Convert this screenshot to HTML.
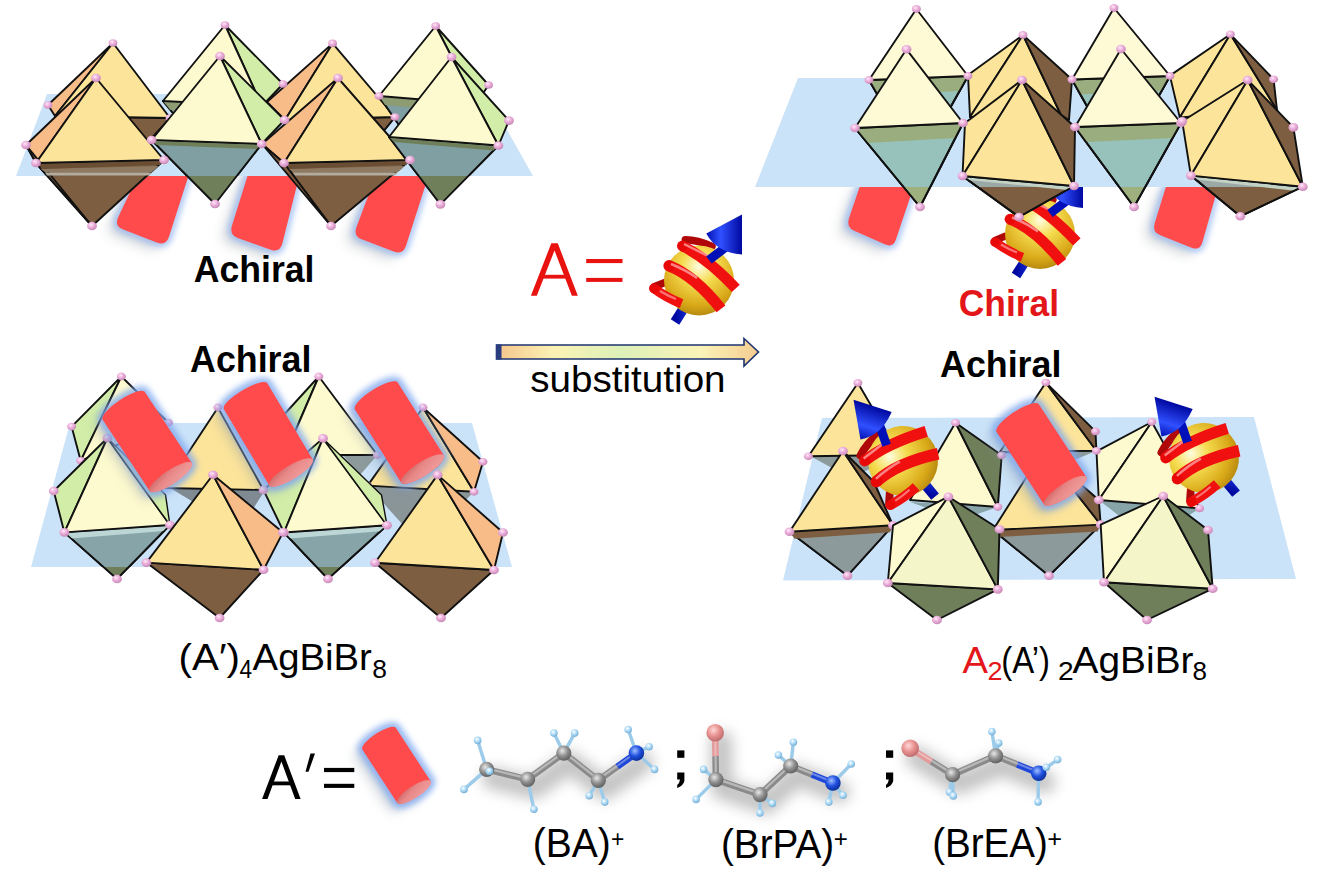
<!DOCTYPE html>
<html><head><meta charset="utf-8"><style>
html,body{margin:0;padding:0;background:#fff;}
svg{display:block;}
text{font-family:"Liberation Sans",sans-serif;}
</style></head><body>
<svg width="1323" height="891" viewBox="0 0 1323 891">
<defs>
<radialGradient id="pk" cx="0.4" cy="0.35" r="0.7"><stop offset="0" stop-color="#FFEAF8"/><stop offset="0.45" stop-color="#EBAEDB"/><stop offset="1" stop-color="#C285B2"/></radialGradient>
<linearGradient id="cap" x1="0" y1="0" x2="1" y2="1"><stop offset="0" stop-color="#F2A0A0"/><stop offset="0.6" stop-color="#E88888"/><stop offset="1" stop-color="#C86060"/></linearGradient>
<radialGradient id="gold" cx="0.5" cy="0.3" r="0.7"><stop offset="0" stop-color="#FFFDE0"/><stop offset="0.35" stop-color="#F5DC50"/><stop offset="0.8" stop-color="#D8A818"/><stop offset="1" stop-color="#B88A10"/></radialGradient>
<linearGradient id="rib" x1="0" y1="0" x2="1" y2="0"><stop offset="0" stop-color="#E00000"/><stop offset="0.35" stop-color="#FF6060"/><stop offset="0.6" stop-color="#FF1010"/><stop offset="1" stop-color="#C00000"/></linearGradient>
<linearGradient id="cone" x1="0" y1="0" x2="1" y2="0"><stop offset="0" stop-color="#0010B0"/><stop offset="0.4" stop-color="#3050FF"/><stop offset="1" stop-color="#0008A0"/></linearGradient>
<linearGradient id="rod" x1="0" y1="0" x2="1" y2="0"><stop offset="0" stop-color="#0008A0"/><stop offset="0.5" stop-color="#2040F0"/><stop offset="1" stop-color="#000890"/></linearGradient>
<linearGradient id="arr" x1="0" y1="0" x2="1" y2="0"><stop offset="0" stop-color="#F5C48C"/><stop offset="0.22" stop-color="#FBF2B4"/><stop offset="0.48" stop-color="#DCF0B8"/><stop offset="0.78" stop-color="#FBF3B8"/><stop offset="1" stop-color="#F5CC90"/></linearGradient>
<radialGradient id="gC" cx="0.4" cy="0.35" r="0.7"><stop offset="0" stop-color="#E8E8E8"/><stop offset="0.5" stop-color="#909090"/><stop offset="1" stop-color="#5A5A5A"/></radialGradient>
<radialGradient id="gN" cx="0.4" cy="0.35" r="0.7"><stop offset="0" stop-color="#9FC0FF"/><stop offset="0.5" stop-color="#2050E0"/><stop offset="1" stop-color="#0A2A90"/></radialGradient>
<radialGradient id="gBr" cx="0.4" cy="0.35" r="0.7"><stop offset="0" stop-color="#FFD8D8"/><stop offset="0.5" stop-color="#E89090"/><stop offset="1" stop-color="#B86868"/></radialGradient>
<radialGradient id="gH" cx="0.4" cy="0.35" r="0.7"><stop offset="0" stop-color="#FFFFFF"/><stop offset="0.5" stop-color="#A8D8F5"/><stop offset="1" stop-color="#70A8D0"/></radialGradient>
<filter id="blur3" x="-30%" y="-30%" width="160%" height="160%"><feGaussianBlur stdDeviation="3"/></filter>
<filter id="blur6" x="-40%" y="-40%" width="180%" height="180%"><feGaussianBlur stdDeviation="6"/></filter>
<filter id="blurM" filterUnits="userSpaceOnUse" x="400" y="680" width="720" height="160"><feGaussianBlur stdDeviation="7"/></filter>
<clipPath id="cTL"><rect x="0" y="0" width="1323" height="176"/></clipPath><clipPath id="cTR"><rect x="0" y="0" width="1323" height="187"/></clipPath><clipPath id="cBL"><rect x="0" y="0" width="1323" height="567"/></clipPath><clipPath id="cBR"><rect x="0" y="0" width="1323" height="580"/></clipPath>
</defs>
<path d="M138.7,174.0 Q143.0,165.0 153.0,165.0 L182.0,165.0 Q192.0,165.0 188.9,174.5 L169.1,236.5 Q166.0,246.0 156.7,242.4 L123.3,229.6 Q114.0,226.0 118.3,217.0 Z" fill="#808890" opacity="0.30" transform="translate(-9,7)" filter="url(#blur6)"/>
<path d="M138.7,174.0 Q143.0,165.0 153.0,165.0 L182.0,165.0 Q192.0,165.0 188.9,174.5 L169.1,236.5 Q166.0,246.0 156.7,242.4 L123.3,229.6 Q114.0,226.0 118.3,217.0 Z" fill="none" stroke="#86AEF2" stroke-width="6" opacity="0.8" filter="url(#blur3)"/>
<path d="M138.7,174.0 Q143.0,165.0 153.0,165.0 L182.0,165.0 Q192.0,165.0 188.9,174.5 L169.1,236.5 Q166.0,246.0 156.7,242.4 L123.3,229.6 Q114.0,226.0 118.3,217.0 Z" fill="#FF4B4B"/>
<path d="M248.0,174.5 Q251.0,165.0 261.0,165.0 L292.0,165.0 Q302.0,165.0 299.6,174.7 L282.4,243.3 Q280.0,253.0 270.6,249.7 L238.4,238.3 Q229.0,235.0 232.0,225.5 Z" fill="#808890" opacity="0.30" transform="translate(-9,7)" filter="url(#blur6)"/>
<path d="M248.0,174.5 Q251.0,165.0 261.0,165.0 L292.0,165.0 Q302.0,165.0 299.6,174.7 L282.4,243.3 Q280.0,253.0 270.6,249.7 L238.4,238.3 Q229.0,235.0 232.0,225.5 Z" fill="none" stroke="#86AEF2" stroke-width="6" opacity="0.8" filter="url(#blur3)"/>
<path d="M248.0,174.5 Q251.0,165.0 261.0,165.0 L292.0,165.0 Q302.0,165.0 299.6,174.7 L282.4,243.3 Q280.0,253.0 270.6,249.7 L238.4,238.3 Q229.0,235.0 232.0,225.5 Z" fill="#FF4B4B"/>
<path d="M376.4,174.3 Q380.0,165.0 390.0,165.0 L422.0,165.0 Q432.0,165.0 428.9,174.5 L406.1,245.5 Q403.0,255.0 393.7,251.4 L362.3,239.6 Q353.0,236.0 356.6,226.7 Z" fill="#808890" opacity="0.30" transform="translate(-9,7)" filter="url(#blur6)"/>
<path d="M376.4,174.3 Q380.0,165.0 390.0,165.0 L422.0,165.0 Q432.0,165.0 428.9,174.5 L406.1,245.5 Q403.0,255.0 393.7,251.4 L362.3,239.6 Q353.0,236.0 356.6,226.7 Z" fill="none" stroke="#86AEF2" stroke-width="6" opacity="0.8" filter="url(#blur3)"/>
<path d="M376.4,174.3 Q380.0,165.0 390.0,165.0 L422.0,165.0 Q432.0,165.0 428.9,174.5 L406.1,245.5 Q403.0,255.0 393.7,251.4 L362.3,239.6 Q353.0,236.0 356.6,226.7 Z" fill="#FF4B4B"/>
<polygon points="47.0,94.0 487.0,94.0 533.0,176.0 16.0,176.0" fill="#CBE3F8" />
<polygon points="55.0,116.0 170.0,118.0 109.0,185.0" fill="#7E5E40" stroke="#111" stroke-width="1.9" stroke-linejoin="round" />
<g clip-path="url(#cTL)">
<polygon points="55.0,116.0 170.0,118.0 109.0,185.0" fill="#7E5E40" stroke="#111" stroke-width="1.9" stroke-linejoin="round" />
</g>
<polygon points="113.0,43.0 48.0,105.0 55.0,116.0" fill="#F7BC87" stroke="#111" stroke-width="1.9" stroke-linejoin="round" />
<polygon points="113.0,43.0 55.0,116.0 170.0,118.0" fill="#FCE49A" stroke="#111" stroke-width="1.9" stroke-linejoin="round" />
<polygon points="163.0,101.0 262.0,106.0 220.0,170.0" fill="#6F7F5A" stroke="#111" stroke-width="1.9" stroke-linejoin="round" />
<g clip-path="url(#cTL)">
<polygon points="163.0,101.0 262.0,106.0 220.0,170.0" fill="#809FA2" stroke="#111" stroke-width="1.9" stroke-linejoin="round" />
</g>
<polygon points="163.0,101.0 262.0,106.0 256.1,115.0 170.4,110.0" fill="#8E9C74" />
<polygon points="225.0,25.0 262.0,106.0 283.0,84.0" fill="#D2EDA8" stroke="#111" stroke-width="1.9" stroke-linejoin="round" />
<polygon points="225.0,25.0 163.0,101.0 262.0,106.0" fill="#FEFACF" stroke="#111" stroke-width="1.9" stroke-linejoin="round" />
<polygon points="285.0,120.0 395.0,117.0 340.0,185.0" fill="#7E5E40" stroke="#111" stroke-width="1.9" stroke-linejoin="round" />
<g clip-path="url(#cTL)">
<polygon points="285.0,120.0 395.0,117.0 340.0,185.0" fill="#7E5E40" stroke="#111" stroke-width="1.9" stroke-linejoin="round" />
</g>
<polygon points="332.6,43.4 267.0,102.0 285.0,120.0" fill="#F7BC87" stroke="#111" stroke-width="1.9" stroke-linejoin="round" />
<polygon points="332.6,43.4 285.0,120.0 395.0,117.0" fill="#FCE49A" stroke="#111" stroke-width="1.9" stroke-linejoin="round" />
<polygon points="379.0,96.0 476.0,104.0 430.0,170.0" fill="#6F7F5A" stroke="#111" stroke-width="1.9" stroke-linejoin="round" />
<g clip-path="url(#cTL)">
<polygon points="379.0,96.0 476.0,104.0 430.0,170.0" fill="#809FA2" stroke="#111" stroke-width="1.9" stroke-linejoin="round" />
</g>
<polygon points="379.0,96.0 476.0,104.0 469.7,113.0 385.2,105.0" fill="#8E9C74" />
<polygon points="435.7,26.0 476.0,104.0 488.6,85.0" fill="#D2EDA8" stroke="#111" stroke-width="1.9" stroke-linejoin="round" />
<polygon points="435.7,26.0 379.0,96.0 476.0,104.0" fill="#FEFACF" stroke="#111" stroke-width="1.9" stroke-linejoin="round" />
<ellipse cx="113.0" cy="43.0" rx="4.4" ry="3.8" fill="url(#pk)"/>
<ellipse cx="48.0" cy="105.0" rx="4.4" ry="3.8" fill="url(#pk)"/>
<ellipse cx="225.0" cy="25.0" rx="4.4" ry="3.8" fill="url(#pk)"/>
<ellipse cx="283.0" cy="84.0" rx="4.4" ry="3.8" fill="url(#pk)"/>
<ellipse cx="332.6" cy="43.4" rx="4.4" ry="3.8" fill="url(#pk)"/>
<ellipse cx="395.0" cy="117.0" rx="4.4" ry="3.8" fill="url(#pk)"/>
<ellipse cx="435.7" cy="26.0" rx="4.4" ry="3.8" fill="url(#pk)"/>
<ellipse cx="379.0" cy="96.0" rx="4.4" ry="3.8" fill="url(#pk)"/>
<ellipse cx="488.6" cy="85.0" rx="4.4" ry="3.8" fill="url(#pk)"/>
<ellipse cx="170.0" cy="118.0" rx="4.4" ry="3.8" fill="url(#pk)"/>
<polygon points="36.0,163.0 164.0,160.0 92.0,226.0" fill="#7E5E40" stroke="#111" stroke-width="1.9" stroke-linejoin="round" />
<g clip-path="url(#cTL)">
<polygon points="36.0,163.0 164.0,160.0 92.0,226.0" fill="#7E5E40" stroke="#111" stroke-width="1.9" stroke-linejoin="round" />
</g>
<polygon points="96.0,78.0 26.0,145.0 36.0,163.0" fill="#F7BC87" stroke="#111" stroke-width="1.9" stroke-linejoin="round" />
<polygon points="96.0,78.0 36.0,163.0 164.0,160.0" fill="#FCE49A" stroke="#111" stroke-width="1.9" stroke-linejoin="round" />
<polygon points="26.0,145.0 36.0,163.0 92.0,226.0" fill="#7E5E40" stroke="#111" stroke-width="1.9" stroke-linejoin="round" />
<polygon points="151.6,140.0 261.7,144.0 215.0,204.0" fill="#6F7F5A" stroke="#111" stroke-width="1.9" stroke-linejoin="round" />
<g clip-path="url(#cTL)">
<polygon points="151.6,140.0 261.7,144.0 215.0,204.0" fill="#809FA2" stroke="#111" stroke-width="1.9" stroke-linejoin="round" />
</g>
<polygon points="220.0,56.0 261.7,144.0 284.5,120.0" fill="#D2EDA8" stroke="#111" stroke-width="1.9" stroke-linejoin="round" />
<polygon points="220.0,56.0 151.6,140.0 261.7,144.0" fill="#FEFACF" stroke="#111" stroke-width="1.9" stroke-linejoin="round" />
<polygon points="284.0,163.0 410.0,160.0 331.0,226.0" fill="#7E5E40" stroke="#111" stroke-width="1.9" stroke-linejoin="round" />
<g clip-path="url(#cTL)">
<polygon points="284.0,163.0 410.0,160.0 331.0,226.0" fill="#7E5E40" stroke="#111" stroke-width="1.9" stroke-linejoin="round" />
</g>
<polygon points="338.0,78.0 262.0,144.0 284.0,163.0" fill="#F7BC87" stroke="#111" stroke-width="1.9" stroke-linejoin="round" />
<polygon points="338.0,78.0 284.0,163.0 410.0,160.0" fill="#FCE49A" stroke="#111" stroke-width="1.9" stroke-linejoin="round" />
<polygon points="262.0,144.0 284.0,163.0 331.0,226.0" fill="#7E5E40" stroke="#111" stroke-width="1.9" stroke-linejoin="round" />
<polygon points="389.0,137.0 498.4,145.5 440.4,204.4" fill="#6F7F5A" stroke="#111" stroke-width="1.9" stroke-linejoin="round" />
<g clip-path="url(#cTL)">
<polygon points="389.0,137.0 498.4,145.5 440.4,204.4" fill="#809FA2" stroke="#111" stroke-width="1.9" stroke-linejoin="round" />
</g>
<polygon points="451.5,57.0 498.4,145.5 509.0,120.6" fill="#D2EDA8" stroke="#111" stroke-width="1.9" stroke-linejoin="round" />
<polygon points="451.5,57.0 389.0,137.0 498.4,145.5" fill="#FEFACF" stroke="#111" stroke-width="1.9" stroke-linejoin="round" />
<polygon points="41,169 159,166 152,172 45,172" fill="#8E7A62"/>
<polygon points="45,172.5 152,172.5 149,175.5 47,175.5" fill="#B2ACA0"/>
<polygon points="40,164 163,161 160,165 41,169" fill="#6A4E34"/>
<polygon points="289,169 405,166 398,172 293,172" fill="#8E7A62"/>
<polygon points="293,172.5 398,172.5 395,175.5 295,175.5" fill="#B2ACA0"/>
<polygon points="288,164 409,161 406,165 289,169" fill="#6A4E34"/>
<polygon points="152.6,141 260.7,145 256.7,149 156.6,145" fill="#6F7F5A"/>
<polygon points="390,138 497.4,146.5 493.4,150.5 394,142" fill="#6F7F5A"/>
<ellipse cx="96.0" cy="78.0" rx="4.9" ry="4.3" fill="url(#pk)"/>
<ellipse cx="26.0" cy="145.0" rx="4.9" ry="4.3" fill="url(#pk)"/>
<ellipse cx="36.0" cy="163.0" rx="4.9" ry="4.3" fill="url(#pk)"/>
<ellipse cx="164.0" cy="160.0" rx="4.9" ry="4.3" fill="url(#pk)"/>
<ellipse cx="92.0" cy="226.0" rx="4.9" ry="4.3" fill="url(#pk)"/>
<ellipse cx="220.0" cy="56.0" rx="4.9" ry="4.3" fill="url(#pk)"/>
<ellipse cx="151.6" cy="140.0" rx="4.9" ry="4.3" fill="url(#pk)"/>
<ellipse cx="261.7" cy="144.0" rx="4.9" ry="4.3" fill="url(#pk)"/>
<ellipse cx="284.5" cy="120.0" rx="4.9" ry="4.3" fill="url(#pk)"/>
<ellipse cx="215.0" cy="204.0" rx="4.9" ry="4.3" fill="url(#pk)"/>
<ellipse cx="338.0" cy="78.0" rx="4.9" ry="4.3" fill="url(#pk)"/>
<ellipse cx="284.0" cy="163.0" rx="4.9" ry="4.3" fill="url(#pk)"/>
<ellipse cx="410.0" cy="160.0" rx="4.9" ry="4.3" fill="url(#pk)"/>
<ellipse cx="331.0" cy="226.0" rx="4.9" ry="4.3" fill="url(#pk)"/>
<ellipse cx="451.5" cy="57.0" rx="4.9" ry="4.3" fill="url(#pk)"/>
<ellipse cx="509.0" cy="120.6" rx="4.9" ry="4.3" fill="url(#pk)"/>
<ellipse cx="498.4" cy="145.5" rx="4.9" ry="4.3" fill="url(#pk)"/>
<ellipse cx="440.4" cy="204.4" rx="4.9" ry="4.3" fill="url(#pk)"/>
<path d="M859.1,188.5 Q862.0,180.0 871.0,180.0 L907.0,180.0 Q916.0,180.0 913.1,188.5 L895.9,239.5 Q893.0,248.0 884.8,244.3 L854.2,230.7 Q846.0,227.0 848.9,218.5 Z" fill="#808890" opacity="0.30" transform="translate(-9,7)" filter="url(#blur6)"/>
<path d="M859.1,188.5 Q862.0,180.0 871.0,180.0 L907.0,180.0 Q916.0,180.0 913.1,188.5 L895.9,239.5 Q893.0,248.0 884.8,244.3 L854.2,230.7 Q846.0,227.0 848.9,218.5 Z" fill="none" stroke="#86AEF2" stroke-width="6" opacity="0.8" filter="url(#blur3)"/>
<path d="M859.1,188.5 Q862.0,180.0 871.0,180.0 L907.0,180.0 Q916.0,180.0 913.1,188.5 L895.9,239.5 Q893.0,248.0 884.8,244.3 L854.2,230.7 Q846.0,227.0 848.9,218.5 Z" fill="#FF4B4B"/>
<path d="M1165.4,188.6 Q1168.0,180.0 1177.0,180.0 L1211.0,180.0 Q1220.0,180.0 1217.6,188.7 L1202.4,242.3 Q1200.0,251.0 1191.6,247.7 L1160.4,235.3 Q1152.0,232.0 1154.6,223.4 Z" fill="#808890" opacity="0.30" transform="translate(-9,7)" filter="url(#blur6)"/>
<path d="M1165.4,188.6 Q1168.0,180.0 1177.0,180.0 L1211.0,180.0 Q1220.0,180.0 1217.6,188.7 L1202.4,242.3 Q1200.0,251.0 1191.6,247.7 L1160.4,235.3 Q1152.0,232.0 1154.6,223.4 Z" fill="none" stroke="#86AEF2" stroke-width="6" opacity="0.8" filter="url(#blur3)"/>
<path d="M1165.4,188.6 Q1168.0,180.0 1177.0,180.0 L1211.0,180.0 Q1220.0,180.0 1217.6,188.7 L1202.4,242.3 Q1200.0,251.0 1191.6,247.7 L1160.4,235.3 Q1152.0,232.0 1154.6,223.4 Z" fill="#FF4B4B"/>
<g transform="translate(1040.0,234.0) rotate(0) scale(1.0) translate(-699,-280.5)"><line x1="675" y1="322" x2="718" y2="254" stroke="url(#rod)" stroke-width="10"/></g><g transform="translate(1040.0,234.0) rotate(0) scale(1.0) translate(-699,-280.5)"><path d="M685.3,239.8 Q698,240 712,246.4" stroke="#B00808" stroke-width="7.2" fill="none" stroke-linecap="round"/><path d="M654.8,286.5 L664.3,282.7" stroke="#B00808" stroke-width="7.2" fill="none" stroke-linecap="round"/></g><g transform="translate(1040.0,234.0) rotate(0) scale(1.0) translate(-699,-280.5)"><circle cx="699" cy="280.5" r="35" fill="url(#gold)"/></g><g transform="translate(1040.0,234.0) rotate(0) scale(1.0) translate(-699,-280.5)"><path d="M682.4,246 Q707.2,258 735.8,288.4" stroke="#F01010" stroke-width="10.3" fill="none"/><circle cx="682.4" cy="246" r="5.2" fill="#E80808"/><path d="M684,244 Q700,252 712,258" stroke="#FFA0A0" stroke-width="2.5" fill="none" opacity="0.8"/><path d="M669,265.7 Q695,276 721,308.9" stroke="#F01010" stroke-width="10.8" fill="none"/><circle cx="669" cy="265.7" r="5.4" fill="#E80808"/><path d="M671,264 Q686,270 697,278" stroke="#FFA0A0" stroke-width="2.5" fill="none" opacity="0.8"/><path d="M681.5,303.7 Q667,298 653.8,288.4" stroke="#F01010" stroke-width="9.1" fill="none"/><circle cx="653.8" cy="288.4" r="4.6" fill="#E80808"/><path d="M676,299 Q668,296 660,291" stroke="#FFA0A0" stroke-width="2.2" fill="none" opacity="0.7"/></g><g transform="translate(1040.0,234.0) rotate(0) scale(1.0) translate(-699,-280.5)"><line x1="709" y1="260" x2="726" y2="247" stroke="#0010B8" stroke-width="9"/><path d="M742,214.5 L706.3,233.4 Q716,252 742,254.6 Z" fill="url(#cone)"/></g>
<polygon points="798.0,78.0 1268.0,78.0 1305.0,187.0 755.0,187.0" fill="#CBE3F8" />
<polygon points="869.0,80.0 968.0,76.0 918.0,165.0" fill="#9DB07E" stroke="#111" stroke-width="1.9" stroke-linejoin="round" />
<g clip-path="url(#cTR)">
<polygon points="869.0,80.0 968.0,76.0 918.0,165.0" fill="#97C2BC" stroke="#111" stroke-width="1.9" stroke-linejoin="round" />
</g>
<polygon points="869.0,80.0 968.0,76.0 959.6,91.0 877.6,95.0" fill="#9AAD7E" />
<polygon points="869.0,80.0 968.0,76.0 918.0,165.0" fill="none" stroke="#111" stroke-width="1.9" stroke-linejoin="round" />
<polygon points="916.4,9.0 869.0,80.0 968.0,76.0" fill="#FEFAD6" stroke="#111" stroke-width="1.9" stroke-linejoin="round" />
<polygon points="1023.0,35.0 968.0,75.0 970.0,117.0" fill="#FCE49A" stroke="#111" stroke-width="1.9" stroke-linejoin="round" />
<polygon points="1023.0,35.0 970.0,117.0 1061.0,115.0" fill="#FCE49A" stroke="#111" stroke-width="1.9" stroke-linejoin="round" />
<polygon points="1023.0,35.0 1061.0,115.0 1069.0,120.0 1072.0,79.5" fill="#7E5E40" stroke="#111" stroke-width="1.9" stroke-linejoin="round" />
<polygon points="1072.0,79.5 1170.0,76.0 1120.0,165.0" fill="#9DB07E" stroke="#111" stroke-width="1.9" stroke-linejoin="round" />
<g clip-path="url(#cTR)">
<polygon points="1072.0,79.5 1170.0,76.0 1120.0,165.0" fill="#97C2BC" stroke="#111" stroke-width="1.9" stroke-linejoin="round" />
</g>
<polygon points="1072.0,79.5 1170.0,76.0 1161.6,91.0 1080.4,94.5" fill="#9AAD7E" />
<polygon points="1072.0,79.5 1170.0,76.0 1120.0,165.0" fill="none" stroke="#111" stroke-width="1.9" stroke-linejoin="round" />
<polygon points="1114.0,8.0 1072.0,79.5 1170.0,76.0" fill="#FEFAD6" stroke="#111" stroke-width="1.9" stroke-linejoin="round" />
<polygon points="1230.4,34.3 1169.9,75.6 1179.8,117.5" fill="#FCE49A" stroke="#111" stroke-width="1.9" stroke-linejoin="round" />
<polygon points="1230.4,34.3 1179.8,117.5 1277.0,110.0" fill="#FCE49A" stroke="#111" stroke-width="1.9" stroke-linejoin="round" />
<polygon points="1230.4,34.3 1277.0,110.0 1273.6,79.3" fill="#7E5E40" stroke="#111" stroke-width="1.9" stroke-linejoin="round" />
<ellipse cx="916.4" cy="9.0" rx="4.5" ry="3.9" fill="url(#pk)"/>
<ellipse cx="869.0" cy="80.0" rx="4.5" ry="3.9" fill="url(#pk)"/>
<ellipse cx="968.0" cy="76.0" rx="4.5" ry="3.9" fill="url(#pk)"/>
<ellipse cx="1023.0" cy="35.0" rx="4.5" ry="3.9" fill="url(#pk)"/>
<ellipse cx="1072.0" cy="79.5" rx="4.5" ry="3.9" fill="url(#pk)"/>
<ellipse cx="1114.0" cy="8.0" rx="4.5" ry="3.9" fill="url(#pk)"/>
<ellipse cx="1170.0" cy="76.0" rx="4.5" ry="3.9" fill="url(#pk)"/>
<ellipse cx="1230.4" cy="34.3" rx="4.5" ry="3.9" fill="url(#pk)"/>
<ellipse cx="1273.6" cy="79.3" rx="4.5" ry="3.9" fill="url(#pk)"/>
<polygon points="855.0,128.0 963.0,123.0 920.0,207.0" fill="#9DB07E" stroke="#111" stroke-width="1.9" stroke-linejoin="round" />
<g clip-path="url(#cTR)">
<polygon points="855.0,128.0 963.0,123.0 920.0,207.0" fill="#97C2BC" stroke="#111" stroke-width="1.9" stroke-linejoin="round" />
</g>
<polygon points="855.0,128.0 963.0,123.0 955.3,138.0 867.3,143.0" fill="#9AAD7E" />
<polygon points="855.0,128.0 963.0,123.0 920.0,207.0" fill="none" stroke="#111" stroke-width="1.9" stroke-linejoin="round" />
<polygon points="906.5,49.3 855.0,128.0 963.0,123.0" fill="#FEFAD6" stroke="#111" stroke-width="1.9" stroke-linejoin="round" />
<polygon points="962.5,176.0 1074.0,186.0 1019.0,217.0" fill="#7E5E40" stroke="#111" stroke-width="1.9" stroke-linejoin="round" />
<g clip-path="url(#cTR)">
<polygon points="962.5,176.0 1074.0,186.0 1019.0,217.0" fill="#9AA8A6" stroke="#111" stroke-width="1.9" stroke-linejoin="round" />
</g>
<polygon points="962.5,176.0 1074.0,186.0 1066.9,190.0 968.0,180.0" fill="#C2D2C4" />
<polygon points="962.5,176.0 1074.0,186.0 1019.0,217.0" fill="none" stroke="#111" stroke-width="1.9" stroke-linejoin="round" />
<polygon points="1022.0,80.0 965.0,123.0 962.5,176.0" fill="#FCE49A" stroke="#111" stroke-width="1.9" stroke-linejoin="round" />
<polygon points="1022.0,80.0 962.5,176.0 1074.0,186.0" fill="#FCE49A" stroke="#111" stroke-width="1.9" stroke-linejoin="round" />
<polygon points="1022.0,80.0 1074.0,186.0 1075.0,127.0" fill="#7E5E40" stroke="#111" stroke-width="1.9" stroke-linejoin="round" />
<polygon points="1075.0,127.0 1181.0,123.0 1134.0,207.0" fill="#9DB07E" stroke="#111" stroke-width="1.9" stroke-linejoin="round" />
<g clip-path="url(#cTR)">
<polygon points="1075.0,127.0 1181.0,123.0 1134.0,207.0" fill="#97C2BC" stroke="#111" stroke-width="1.9" stroke-linejoin="round" />
</g>
<polygon points="1075.0,127.0 1181.0,123.0 1172.6,138.0 1086.1,142.0" fill="#9AAD7E" />
<polygon points="1075.0,127.0 1181.0,123.0 1134.0,207.0" fill="none" stroke="#111" stroke-width="1.9" stroke-linejoin="round" />
<polygon points="1121.0,49.0 1075.0,127.0 1181.0,123.0" fill="#FEFAD6" stroke="#111" stroke-width="1.9" stroke-linejoin="round" />
<polygon points="1190.9,175.6 1302.8,186.7 1240.3,216.3" fill="#7E5E40" stroke="#111" stroke-width="1.9" stroke-linejoin="round" />
<g clip-path="url(#cTR)">
<polygon points="1190.9,175.6 1302.8,186.7 1240.3,216.3" fill="#9AA8A6" stroke="#111" stroke-width="1.9" stroke-linejoin="round" />
</g>
<polygon points="1190.9,175.6 1302.8,186.7 1294.4,190.7 1195.8,179.6" fill="#C2D2C4" />
<polygon points="1190.9,175.6 1302.8,186.7 1240.3,216.3" fill="none" stroke="#111" stroke-width="1.9" stroke-linejoin="round" />
<polygon points="1247.7,80.0 1182.2,121.3 1190.9,175.6" fill="#FCE49A" stroke="#111" stroke-width="1.9" stroke-linejoin="round" />
<polygon points="1247.7,80.0 1190.9,175.6 1302.8,186.7" fill="#FCE49A" stroke="#111" stroke-width="1.9" stroke-linejoin="round" />
<polygon points="1247.7,80.0 1302.8,186.7 1293.4,127.4" fill="#7E5E40" stroke="#111" stroke-width="1.9" stroke-linejoin="round" />
<ellipse cx="906.5" cy="49.3" rx="4.9" ry="4.3" fill="url(#pk)"/>
<ellipse cx="855.0" cy="128.0" rx="4.9" ry="4.3" fill="url(#pk)"/>
<ellipse cx="963.0" cy="123.0" rx="4.9" ry="4.3" fill="url(#pk)"/>
<ellipse cx="920.0" cy="207.0" rx="4.9" ry="4.3" fill="url(#pk)"/>
<ellipse cx="1022.0" cy="80.0" rx="4.9" ry="4.3" fill="url(#pk)"/>
<ellipse cx="962.5" cy="176.0" rx="4.9" ry="4.3" fill="url(#pk)"/>
<ellipse cx="1074.0" cy="186.0" rx="4.9" ry="4.3" fill="url(#pk)"/>
<ellipse cx="1075.0" cy="127.0" rx="4.9" ry="4.3" fill="url(#pk)"/>
<ellipse cx="1019.0" cy="217.0" rx="4.9" ry="4.3" fill="url(#pk)"/>
<ellipse cx="1121.0" cy="49.0" rx="4.9" ry="4.3" fill="url(#pk)"/>
<ellipse cx="1181.0" cy="123.0" rx="4.9" ry="4.3" fill="url(#pk)"/>
<ellipse cx="1134.0" cy="207.0" rx="4.9" ry="4.3" fill="url(#pk)"/>
<ellipse cx="1247.7" cy="80.0" rx="4.9" ry="4.3" fill="url(#pk)"/>
<ellipse cx="1182.2" cy="121.3" rx="4.9" ry="4.3" fill="url(#pk)"/>
<ellipse cx="1190.9" cy="175.6" rx="4.9" ry="4.3" fill="url(#pk)"/>
<ellipse cx="1302.8" cy="186.7" rx="4.9" ry="4.3" fill="url(#pk)"/>
<ellipse cx="1293.4" cy="127.4" rx="4.9" ry="4.3" fill="url(#pk)"/>
<ellipse cx="1240.3" cy="216.3" rx="4.9" ry="4.3" fill="url(#pk)"/>
<polygon points="70.0,423.0 472.0,423.0 512.0,567.0 31.0,567.0" fill="#CBE3F8" />
<polygon points="121.4,376.5 71.6,426.6 80.7,460.8" fill="#D2EDA8" stroke="#111" stroke-width="1.9" stroke-linejoin="round" />
<polygon points="121.4,376.5 80.7,460.8 168.5,422.7" fill="#FEFACF" stroke="#111" stroke-width="1.9" stroke-linejoin="round" />
<polygon points="170.0,488.0 265.0,490.0 240.0,530.0" fill="#7F8A92" />
<polygon points="218.0,407.5 165.0,488.0 263.5,490.0" fill="#FCE49A" stroke="#111" stroke-width="1.9" stroke-linejoin="round" />
<polygon points="340.0,452.0 377.4,455.0 360.0,475.0" fill="#8C9A9C" />
<polygon points="318.8,376.5 270.0,430.0 285.0,455.0" fill="#D2EDA8" stroke="#111" stroke-width="1.9" stroke-linejoin="round" />
<polygon points="318.8,376.5 285.0,455.0 377.4,455.0" fill="#FEFACF" stroke="#111" stroke-width="1.9" stroke-linejoin="round" />
<polygon points="367.6,485.6 474.0,491.8 421.0,545.0" fill="#8A9598" />
<polygon points="423.0,407.5 367.6,485.6 474.0,491.8" fill="#FCE49A" stroke="#111" stroke-width="1.9" stroke-linejoin="round" />
<polygon points="423.0,407.5 474.0,491.8 483.0,461.8" fill="#F7BC87" stroke="#111" stroke-width="1.9" stroke-linejoin="round" />
<ellipse cx="121.4" cy="376.5" rx="4.5" ry="3.9" fill="url(#pk)"/>
<ellipse cx="71.6" cy="426.6" rx="4.5" ry="3.9" fill="url(#pk)"/>
<ellipse cx="80.7" cy="460.8" rx="4.5" ry="3.9" fill="url(#pk)"/>
<ellipse cx="168.5" cy="422.7" rx="4.5" ry="3.9" fill="url(#pk)"/>
<ellipse cx="218.0" cy="407.5" rx="4.5" ry="3.9" fill="url(#pk)"/>
<ellipse cx="263.5" cy="490.0" rx="4.5" ry="3.9" fill="url(#pk)"/>
<ellipse cx="318.8" cy="376.5" rx="4.5" ry="3.9" fill="url(#pk)"/>
<ellipse cx="377.4" cy="455.0" rx="4.5" ry="3.9" fill="url(#pk)"/>
<ellipse cx="423.0" cy="407.5" rx="4.5" ry="3.9" fill="url(#pk)"/>
<ellipse cx="367.6" cy="485.6" rx="4.5" ry="3.9" fill="url(#pk)"/>
<ellipse cx="474.0" cy="491.8" rx="4.5" ry="3.9" fill="url(#pk)"/>
<ellipse cx="483.0" cy="461.8" rx="4.5" ry="3.9" fill="url(#pk)"/>
<polygon points="64.4,532.4 169.9,525.0 117.0,579.0" fill="#6F7F5A" stroke="#111" stroke-width="1.9" stroke-linejoin="round" />
<g clip-path="url(#cBL)">
<polygon points="64.4,532.4 169.9,525.0 117.0,579.0" fill="#87A5A8" stroke="#111" stroke-width="1.9" stroke-linejoin="round" />
</g>
<polygon points="64.4,532.4 169.9,525.0 164.0,531.0 71.2,538.4" fill="#BCD6D6" />
<polygon points="64.4,532.4 169.9,525.0 117.0,579.0" fill="none" stroke="#111" stroke-width="1.2" stroke-linejoin="round" />
<polygon points="107.4,438.0 53.7,491.0 64.4,532.4" fill="#D2EDA8" stroke="#111" stroke-width="1.9" stroke-linejoin="round" />
<polygon points="107.4,438.0 64.4,532.4 169.9,525.0" fill="#FEFACF" stroke="#111" stroke-width="1.9" stroke-linejoin="round" />
<polygon points="107.4,438.0 165.5,494.7 169.9,525.0" fill="#D2EDA8" stroke="#111" stroke-width="1.4" stroke-linejoin="round" />
<polygon points="284.0,532.5 387.0,525.3 328.0,579.0" fill="#6F7F5A" stroke="#111" stroke-width="1.9" stroke-linejoin="round" />
<g clip-path="url(#cBL)">
<polygon points="284.0,532.5 387.0,525.3 328.0,579.0" fill="#87A5A8" stroke="#111" stroke-width="1.9" stroke-linejoin="round" />
</g>
<polygon points="284.0,532.5 387.0,525.3 380.4,531.3 289.7,538.5" fill="#BCD6D6" />
<polygon points="284.0,532.5 387.0,525.3 328.0,579.0" fill="none" stroke="#111" stroke-width="1.2" stroke-linejoin="round" />
<polygon points="323.0,438.4 263.5,490.0 284.0,532.5" fill="#D2EDA8" stroke="#111" stroke-width="1.9" stroke-linejoin="round" />
<polygon points="323.0,438.4 284.0,532.5 387.0,525.3" fill="#FEFACF" stroke="#111" stroke-width="1.9" stroke-linejoin="round" />
<polygon points="323.0,438.4 381.5,495.0 387.0,525.3" fill="#D2EDA8" stroke="#111" stroke-width="1.4" stroke-linejoin="round" />
<ellipse cx="107.4" cy="438.0" rx="4.9" ry="4.3" fill="url(#pk)"/>
<ellipse cx="53.7" cy="491.0" rx="4.9" ry="4.3" fill="url(#pk)"/>
<ellipse cx="64.4" cy="532.4" rx="4.9" ry="4.3" fill="url(#pk)"/>
<ellipse cx="169.9" cy="525.0" rx="4.9" ry="4.3" fill="url(#pk)"/>
<ellipse cx="117.0" cy="579.0" rx="4.9" ry="4.3" fill="url(#pk)"/>
<ellipse cx="323.0" cy="438.4" rx="4.9" ry="4.3" fill="url(#pk)"/>
<ellipse cx="263.5" cy="490.0" rx="4.9" ry="4.3" fill="url(#pk)"/>
<ellipse cx="284.0" cy="532.5" rx="4.9" ry="4.3" fill="url(#pk)"/>
<ellipse cx="387.0" cy="525.3" rx="4.9" ry="4.3" fill="url(#pk)"/>
<ellipse cx="328.0" cy="579.0" rx="4.9" ry="4.3" fill="url(#pk)"/>
<path d="M102.5,419.5 A25.3,7.0 146.6 0 1 144.7,391.7 L191.9,463.3 A25.3,7.0 146.6 0 1 149.7,491.1 Z" fill="#7f8fa0" opacity="0.35" transform="translate(-8,8)" filter="url(#blur6)"/>
<path d="M102.5,419.5 A25.3,7.0 146.6 0 1 144.7,391.7 L191.9,463.3 A25.3,7.0 146.6 0 1 149.7,491.1 Z" fill="none" stroke="#7FA8F0" stroke-width="9" opacity="0.85" filter="url(#blur3)"/>
<path d="M102.5,419.5 A25.3,7.0 146.6 0 1 144.7,391.7 L191.9,463.3 A25.3,7.0 146.6 0 1 149.7,491.1 Z" fill="#FF4B4B"/>
<ellipse cx="170.8" cy="477.2" rx="25.3" ry="7.0" transform="rotate(146.6 170.8 477.2)" fill="url(#cap)"/>
<path d="M223.8,408.9 A25.3,7.0 149.3 0 1 267.2,383.1 L312.7,459.6 A25.3,7.0 149.3 0 1 269.3,485.4 Z" fill="#7f8fa0" opacity="0.35" transform="translate(-8,8)" filter="url(#blur6)"/>
<path d="M223.8,408.9 A25.3,7.0 149.3 0 1 267.2,383.1 L312.7,459.6 A25.3,7.0 149.3 0 1 269.3,485.4 Z" fill="none" stroke="#7FA8F0" stroke-width="9" opacity="0.85" filter="url(#blur3)"/>
<path d="M223.8,408.9 A25.3,7.0 149.3 0 1 267.2,383.1 L312.7,459.6 A25.3,7.0 149.3 0 1 269.3,485.4 Z" fill="#FF4B4B"/>
<ellipse cx="291.0" cy="472.5" rx="25.3" ry="7.0" transform="rotate(149.3 291.0 472.5)" fill="url(#cap)"/>
<path d="M354.9,409.4 A25.3,7.0 147.7 0 1 397.7,382.4 L443.9,455.5 A25.3,7.0 147.7 0 1 401.1,482.5 Z" fill="#7f8fa0" opacity="0.35" transform="translate(-8,8)" filter="url(#blur6)"/>
<path d="M354.9,409.4 A25.3,7.0 147.7 0 1 397.7,382.4 L443.9,455.5 A25.3,7.0 147.7 0 1 401.1,482.5 Z" fill="none" stroke="#7FA8F0" stroke-width="9" opacity="0.85" filter="url(#blur3)"/>
<path d="M354.9,409.4 A25.3,7.0 147.7 0 1 397.7,382.4 L443.9,455.5 A25.3,7.0 147.7 0 1 401.1,482.5 Z" fill="#FF4B4B"/>
<ellipse cx="422.5" cy="469.0" rx="25.3" ry="7.0" transform="rotate(147.7 422.5 469.0)" fill="url(#cap)"/>
<polygon points="146.4,562.6 263.6,569.8 219.6,618.0" fill="#7E5E40" stroke="#111" stroke-width="1.9" stroke-linejoin="round" />
<polygon points="213.0,474.8 146.4,562.6 263.6,569.8" fill="#FCE49A" stroke="#111" stroke-width="1.9" stroke-linejoin="round" />
<polygon points="213.0,474.8 263.6,569.8 283.0,532.4" fill="#F7BC87" stroke="#111" stroke-width="1.9" stroke-linejoin="round" />
<polygon points="375.0,562.7 494.0,570.0 441.0,618.0" fill="#7E5E40" stroke="#111" stroke-width="1.9" stroke-linejoin="round" />
<polygon points="437.6,474.9 375.0,562.7 494.0,570.0" fill="#FCE49A" stroke="#111" stroke-width="1.9" stroke-linejoin="round" />
<polygon points="437.6,474.9 494.0,570.0 503.0,532.5" fill="#F7BC87" stroke="#111" stroke-width="1.9" stroke-linejoin="round" />
<ellipse cx="213.0" cy="474.8" rx="4.9" ry="4.3" fill="url(#pk)"/>
<ellipse cx="146.4" cy="562.6" rx="4.9" ry="4.3" fill="url(#pk)"/>
<ellipse cx="263.6" cy="569.8" rx="4.9" ry="4.3" fill="url(#pk)"/>
<ellipse cx="283.0" cy="532.4" rx="4.9" ry="4.3" fill="url(#pk)"/>
<ellipse cx="219.6" cy="618.0" rx="4.9" ry="4.3" fill="url(#pk)"/>
<ellipse cx="437.6" cy="474.9" rx="4.9" ry="4.3" fill="url(#pk)"/>
<ellipse cx="375.0" cy="562.7" rx="4.9" ry="4.3" fill="url(#pk)"/>
<ellipse cx="494.0" cy="570.0" rx="4.9" ry="4.3" fill="url(#pk)"/>
<ellipse cx="503.0" cy="532.5" rx="4.9" ry="4.3" fill="url(#pk)"/>
<ellipse cx="441.0" cy="618.0" rx="4.9" ry="4.3" fill="url(#pk)"/>
<polygon points="822.0,418.0 1254.0,417.0 1296.0,579.0 783.0,580.6" fill="#CBE3F8" />
<polygon points="812.0,457.0 900.0,455.0 850.0,478.0" fill="#8C9A9C" />
<polygon points="857.9,383.0 808.4,456.3 900.0,455.0" fill="#FCE49A" stroke="#111" stroke-width="1.9" stroke-linejoin="round" />
<polygon points="910.0,502.0 997.8,507.0 960.0,520.0" fill="#87A5A8" />
<polygon points="955.5,422.8 910.0,500.0 997.8,507.0" fill="#FEFACF" stroke="#111" stroke-width="1.9" stroke-linejoin="round" />
<polygon points="955.5,422.8 997.8,507.0 1001.7,455.3" fill="#6F7F5A" stroke="#111" stroke-width="1.9" stroke-linejoin="round" />
<polygon points="1000.0,452.0 1096.4,450.8 1060.0,466.0" fill="#8C9A9C" />
<polygon points="1045.9,382.6 1000.0,452.0 1096.4,450.8" fill="#FCE49A" stroke="#111" stroke-width="1.9" stroke-linejoin="round" />
<polygon points="1045.9,382.6 1096.4,450.8 1095.5,431.4" fill="#7E5E40" stroke="#111" stroke-width="1.9" stroke-linejoin="round" />
<polygon points="1098.8,500.0 1199.6,508.4 1150.0,540.0" fill="#87A5A8" />
<polygon points="1151.8,422.0 1096.5,451.4 1098.8,500.0" fill="#FEFACF" stroke="#111" stroke-width="1.9" stroke-linejoin="round" />
<polygon points="1151.8,422.0 1098.8,500.0 1199.6,508.4" fill="#FEFACF" stroke="#111" stroke-width="1.9" stroke-linejoin="round" />
<ellipse cx="857.9" cy="383.0" rx="4.5" ry="3.9" fill="url(#pk)"/>
<ellipse cx="808.4" cy="456.3" rx="4.5" ry="3.9" fill="url(#pk)"/>
<ellipse cx="955.5" cy="422.8" rx="4.5" ry="3.9" fill="url(#pk)"/>
<ellipse cx="1001.7" cy="455.3" rx="4.5" ry="3.9" fill="url(#pk)"/>
<ellipse cx="997.8" cy="507.0" rx="4.5" ry="3.9" fill="url(#pk)"/>
<ellipse cx="1045.9" cy="382.6" rx="4.5" ry="3.9" fill="url(#pk)"/>
<ellipse cx="1095.5" cy="431.4" rx="4.5" ry="3.9" fill="url(#pk)"/>
<ellipse cx="1096.4" cy="450.8" rx="4.5" ry="3.9" fill="url(#pk)"/>
<ellipse cx="1151.8" cy="422.0" rx="4.5" ry="3.9" fill="url(#pk)"/>
<ellipse cx="1199.6" cy="508.4" rx="4.5" ry="3.9" fill="url(#pk)"/>
<polygon points="789.5,531.8 893.0,525.3 847.5,575.7" fill="#7E5E40" stroke="#111" stroke-width="1.9" stroke-linejoin="round" />
<g clip-path="url(#cBR)">
<polygon points="789.5,531.8 893.0,525.3 847.5,575.7" fill="#8C9A9C" stroke="#111" stroke-width="1.9" stroke-linejoin="round" />
</g>
<polygon points="789.5,531.8 893.0,525.3 890.0,532.3 794.5,538.8" fill="#7E5E40" />
<polygon points="843.0,451.0 789.5,531.8 893.0,525.3" fill="#FCE49A" stroke="#111" stroke-width="1.9" stroke-linejoin="round" />
<polygon points="843.0,451.0 893.0,525.3 874.0,482.0" fill="#7E5E40" stroke="#111" stroke-width="1.9" stroke-linejoin="round" />
<polygon points="993.0,530.0 1100.7,524.6 1049.0,575.7" fill="#7E5E40" stroke="#111" stroke-width="1.9" stroke-linejoin="round" />
<g clip-path="url(#cBR)">
<polygon points="993.0,530.0 1100.7,524.6 1049.0,575.7" fill="#8C9A9C" stroke="#111" stroke-width="1.9" stroke-linejoin="round" />
</g>
<polygon points="993.0,530.0 1100.7,524.6 1097.7,531.6 998.0,537.0" fill="#7E5E40" />
<polygon points="1043.0,451.0 993.0,530.0 1100.7,524.6" fill="#FCE49A" stroke="#111" stroke-width="1.9" stroke-linejoin="round" />
<polygon points="1043.0,451.0 1100.7,524.6 1098.8,500.0" fill="#7E5E40" stroke="#111" stroke-width="1.9" stroke-linejoin="round" />
<ellipse cx="843.0" cy="451.0" rx="4.9" ry="4.3" fill="url(#pk)"/>
<ellipse cx="789.5" cy="531.8" rx="4.9" ry="4.3" fill="url(#pk)"/>
<ellipse cx="893.0" cy="525.3" rx="4.9" ry="4.3" fill="url(#pk)"/>
<ellipse cx="847.5" cy="575.7" rx="4.9" ry="4.3" fill="url(#pk)"/>
<ellipse cx="1100.7" cy="524.6" rx="4.9" ry="4.3" fill="url(#pk)"/>
<ellipse cx="1098.8" cy="500.0" rx="4.9" ry="4.3" fill="url(#pk)"/>
<ellipse cx="1049.0" cy="575.7" rx="4.9" ry="4.3" fill="url(#pk)"/>
<g transform="translate(903.0,461.0) rotate(-72) scale(1.0) translate(-699,-280.5)"><line x1="675" y1="322" x2="718" y2="254" stroke="url(#rod)" stroke-width="10"/></g><g transform="translate(903.0,461.0) rotate(-64) scale(1.0) translate(-699,-280.5)"><path d="M685.3,239.8 Q698,240 712,246.4" stroke="#B00808" stroke-width="7.8" fill="none" stroke-linecap="round"/><path d="M654.8,286.5 L664.3,282.7" stroke="#B00808" stroke-width="7.8" fill="none" stroke-linecap="round"/></g><g transform="translate(903.0,461.0) rotate(-72) scale(1.0) translate(-699,-280.5)"><circle cx="699" cy="280.5" r="35" fill="url(#gold)"/></g><g transform="translate(903.0,461.0) rotate(-64) scale(1.0) translate(-699,-280.5)"><path d="M682.4,246 Q707.2,258 735.8,288.4" stroke="#F01010" stroke-width="11.2" fill="none"/><circle cx="682.4" cy="246" r="5.6" fill="#E80808"/><path d="M684,244 Q700,252 712,258" stroke="#FFA0A0" stroke-width="2.5" fill="none" opacity="0.8"/><path d="M669,265.7 Q695,276 721,308.9" stroke="#F01010" stroke-width="11.7" fill="none"/><circle cx="669" cy="265.7" r="5.9" fill="#E80808"/><path d="M671,264 Q686,270 697,278" stroke="#FFA0A0" stroke-width="2.5" fill="none" opacity="0.8"/><path d="M681.5,303.7 Q667,298 653.8,288.4" stroke="#F01010" stroke-width="9.9" fill="none"/><circle cx="653.8" cy="288.4" r="4.9" fill="#E80808"/><path d="M676,299 Q668,296 660,291" stroke="#FFA0A0" stroke-width="2.2" fill="none" opacity="0.7"/></g><g transform="translate(903.0,461.0) rotate(-72) scale(1.0) translate(-699,-280.5)"><line x1="709" y1="260" x2="726" y2="247" stroke="#0010B8" stroke-width="9"/><path d="M742,214.5 L706.3,233.4 Q716,252 742,254.6 Z" fill="url(#cone)"/></g>
<path d="M996.4,431.8 A25.3,7.0 146.8 0 1 1038.8,404.2 L1086.4,477.0 A25.3,7.0 146.8 0 1 1044.0,504.6 Z" fill="#7f8fa0" opacity="0.35" transform="translate(-8,8)" filter="url(#blur6)"/>
<path d="M996.4,431.8 A25.3,7.0 146.8 0 1 1038.8,404.2 L1086.4,477.0 A25.3,7.0 146.8 0 1 1044.0,504.6 Z" fill="none" stroke="#7FA8F0" stroke-width="9" opacity="0.85" filter="url(#blur3)"/>
<path d="M996.4,431.8 A25.3,7.0 146.8 0 1 1038.8,404.2 L1086.4,477.0 A25.3,7.0 146.8 0 1 1044.0,504.6 Z" fill="#FF4B4B"/>
<ellipse cx="1065.2" cy="490.8" rx="25.3" ry="7.0" transform="rotate(146.8 1065.2 490.8)" fill="url(#cap)"/>
<polygon points="887.8,583.0 997.8,589.4 937.0,620.0" fill="#6F7F5A" stroke="#111" stroke-width="1.9" stroke-linejoin="round" />
<g clip-path="url(#cBR)">
<polygon points="887.8,583.0 997.8,589.4 937.0,620.0" fill="#87A5A8" stroke="#111" stroke-width="1.9" stroke-linejoin="round" />
</g>
<polygon points="948.4,496.7 893.0,525.3 887.8,583.0" fill="#FEFACF" stroke="#111" stroke-width="1.9" stroke-linejoin="round" />
<polygon points="948.4,496.7 887.8,583.0 997.8,589.4" fill="#F4F6CA" stroke="#111" stroke-width="1.9" stroke-linejoin="round" />
<polygon points="948.4,496.7 997.8,589.4 999.5,529.2" fill="#6F7F5A" stroke="#111" stroke-width="1.9" stroke-linejoin="round" />
<polygon points="1104.0,582.2 1212.7,588.7 1147.0,620.0" fill="#6F7F5A" stroke="#111" stroke-width="1.9" stroke-linejoin="round" />
<g clip-path="url(#cBR)">
<polygon points="1104.0,582.2 1212.7,588.7 1147.0,620.0" fill="#87A5A8" stroke="#111" stroke-width="1.9" stroke-linejoin="round" />
</g>
<polygon points="1163.2,496.0 1100.7,524.6 1104.0,582.2" fill="#FEFACF" stroke="#111" stroke-width="1.9" stroke-linejoin="round" />
<polygon points="1163.2,496.0 1104.0,582.2 1212.7,588.7" fill="#F4F6CA" stroke="#111" stroke-width="1.9" stroke-linejoin="round" />
<polygon points="1163.2,496.0 1212.7,588.7 1208.0,530.0" fill="#6F7F5A" stroke="#111" stroke-width="1.9" stroke-linejoin="round" />
<ellipse cx="948.4" cy="496.7" rx="4.9" ry="4.3" fill="url(#pk)"/>
<ellipse cx="887.8" cy="583.0" rx="4.9" ry="4.3" fill="url(#pk)"/>
<ellipse cx="997.8" cy="589.4" rx="4.9" ry="4.3" fill="url(#pk)"/>
<ellipse cx="999.5" cy="529.2" rx="4.9" ry="4.3" fill="url(#pk)"/>
<ellipse cx="937.0" cy="620.0" rx="4.9" ry="4.3" fill="url(#pk)"/>
<ellipse cx="1163.2" cy="496.0" rx="4.9" ry="4.3" fill="url(#pk)"/>
<ellipse cx="1104.0" cy="582.2" rx="4.9" ry="4.3" fill="url(#pk)"/>
<ellipse cx="1212.7" cy="588.7" rx="4.9" ry="4.3" fill="url(#pk)"/>
<ellipse cx="1208.0" cy="530.0" rx="4.9" ry="4.3" fill="url(#pk)"/>
<ellipse cx="1147.0" cy="620.0" rx="4.9" ry="4.3" fill="url(#pk)"/>
<g transform="translate(1204.0,458.0) rotate(-72) scale(1.0) translate(-699,-280.5)"><line x1="675" y1="322" x2="718" y2="254" stroke="url(#rod)" stroke-width="10"/></g><g transform="translate(1204.0,458.0) rotate(-64) scale(1.0) translate(-699,-280.5)"><path d="M685.3,239.8 Q698,240 712,246.4" stroke="#B00808" stroke-width="7.8" fill="none" stroke-linecap="round"/><path d="M654.8,286.5 L664.3,282.7" stroke="#B00808" stroke-width="7.8" fill="none" stroke-linecap="round"/></g><g transform="translate(1204.0,458.0) rotate(-72) scale(1.0) translate(-699,-280.5)"><circle cx="699" cy="280.5" r="35" fill="url(#gold)"/></g><g transform="translate(1204.0,458.0) rotate(-64) scale(1.0) translate(-699,-280.5)"><path d="M682.4,246 Q707.2,258 735.8,288.4" stroke="#F01010" stroke-width="11.2" fill="none"/><circle cx="682.4" cy="246" r="5.6" fill="#E80808"/><path d="M684,244 Q700,252 712,258" stroke="#FFA0A0" stroke-width="2.5" fill="none" opacity="0.8"/><path d="M669,265.7 Q695,276 721,308.9" stroke="#F01010" stroke-width="11.7" fill="none"/><circle cx="669" cy="265.7" r="5.9" fill="#E80808"/><path d="M671,264 Q686,270 697,278" stroke="#FFA0A0" stroke-width="2.5" fill="none" opacity="0.8"/><path d="M681.5,303.7 Q667,298 653.8,288.4" stroke="#F01010" stroke-width="9.9" fill="none"/><circle cx="653.8" cy="288.4" r="4.9" fill="#E80808"/><path d="M676,299 Q668,296 660,291" stroke="#FFA0A0" stroke-width="2.2" fill="none" opacity="0.7"/></g><g transform="translate(1204.0,458.0) rotate(-72) scale(1.0) translate(-699,-280.5)"><line x1="709" y1="260" x2="726" y2="247" stroke="#0010B8" stroke-width="9"/><path d="M742,214.5 L706.3,233.4 Q716,252 742,254.6 Z" fill="url(#cone)"/></g>
<text x="193.75" y="282" font-size="37.5" font-weight="bold" fill="#000" textLength="120.68" lengthAdjust="spacingAndGlyphs" >Achiral</text>
<text x="190.05" y="371.8" font-size="37.5" font-weight="bold" fill="#000" textLength="121.3" lengthAdjust="spacingAndGlyphs" >Achiral</text>
<text x="940.05" y="376.5" font-size="37.5" font-weight="bold" fill="#000" textLength="121.3" lengthAdjust="spacingAndGlyphs" >Achiral</text>
<text x="958.81" y="315.8" font-size="37.5" font-weight="bold" fill="#E3161A" textLength="100.34" lengthAdjust="spacingAndGlyphs" >Chiral</text>
<path d="M530.9,295.8 L551.3,243.2 L557.8,243.2 L577.8,295.8 L571.9,295.8 L554.5,250.5 L536.8,295.8 Z" fill="#E8120F"/>
<rect x="542.5" y="274.8" width="24" height="3.8" fill="#E8120F"/>
<rect x="586.2" y="259" width="36.3" height="4.1" fill="#E8120F"/><rect x="586.2" y="277.9" width="36.3" height="4" fill="#E8120F"/>
<g transform="translate(699.0,280.5) rotate(0) scale(1.0) translate(-699,-280.5)"><line x1="675" y1="322" x2="718" y2="254" stroke="url(#rod)" stroke-width="10"/></g><g transform="translate(699.0,280.5) rotate(0) scale(1.0) translate(-699,-280.5)"><path d="M685.3,239.8 Q698,240 712,246.4" stroke="#B00808" stroke-width="7.5" fill="none" stroke-linecap="round"/><path d="M654.8,286.5 L664.3,282.7" stroke="#B00808" stroke-width="7.5" fill="none" stroke-linecap="round"/></g><g transform="translate(699.0,280.5) rotate(0) scale(1.0) translate(-699,-280.5)"><circle cx="699" cy="280.5" r="35" fill="url(#gold)"/></g><g transform="translate(699.0,280.5) rotate(0) scale(1.0) translate(-699,-280.5)"><path d="M682.4,246 Q707.2,258 735.8,288.4" stroke="#F01010" stroke-width="10.8" fill="none"/><circle cx="682.4" cy="246" r="5.4" fill="#E80808"/><path d="M684,244 Q700,252 712,258" stroke="#FFA0A0" stroke-width="2.5" fill="none" opacity="0.8"/><path d="M669,265.7 Q695,276 721,308.9" stroke="#F01010" stroke-width="11.2" fill="none"/><circle cx="669" cy="265.7" r="5.6" fill="#E80808"/><path d="M671,264 Q686,270 697,278" stroke="#FFA0A0" stroke-width="2.5" fill="none" opacity="0.8"/><path d="M681.5,303.7 Q667,298 653.8,288.4" stroke="#F01010" stroke-width="9.5" fill="none"/><circle cx="653.8" cy="288.4" r="4.8" fill="#E80808"/><path d="M676,299 Q668,296 660,291" stroke="#FFA0A0" stroke-width="2.2" fill="none" opacity="0.7"/></g><g transform="translate(699.0,280.5) rotate(0) scale(1.0) translate(-699,-280.5)"><line x1="709" y1="260" x2="726" y2="247" stroke="#0010B8" stroke-width="9"/><path d="M742,214.5 L706.3,233.4 Q716,252 742,254.6 Z" fill="url(#cone)"/></g>
<path d="M496.5,345 L744,345 L744,338.5 L758.5,352 L744,366 L744,359 L496.5,359 Z" fill="url(#arr)" stroke="#1E3470" stroke-width="1.6" stroke-linejoin="miter"/>
<rect x="496" y="344.5" width="5.5" height="15" fill="#2A3C80"/>
<text x="530.27" y="392.4" font-size="37.5" font-weight="normal" fill="#000" textLength="195.31" lengthAdjust="spacingAndGlyphs" >substitution</text>
<text x="178.64" y="669.6" font-size="37.3" font-weight="normal" fill="#000" textLength="61.3" lengthAdjust="spacingAndGlyphs" >(A′)</text>
<text x="239.53" y="677.8" font-size="26" font-weight="normal" fill="#000" textLength="12.58" lengthAdjust="spacingAndGlyphs" >4</text>
<text x="252.6" y="669.6" font-size="37.3" font-weight="normal" fill="#000" textLength="119.2" lengthAdjust="spacingAndGlyphs" >AgBiBr</text>
<text x="372.38" y="677.8" font-size="26" font-weight="normal" fill="#000" textLength="14.71" lengthAdjust="spacingAndGlyphs" >8</text>
<text x="962.4" y="672.7" font-size="37.3" font-weight="normal" fill="#E3161A" textLength="25.49" lengthAdjust="spacingAndGlyphs" >A</text>
<text x="987.46" y="680" font-size="26" font-weight="normal" fill="#E3161A" textLength="15.07" lengthAdjust="spacingAndGlyphs" >2</text>
<text x="1001.24" y="672.7" font-size="37.3" font-weight="normal" fill="#000" textLength="48.75" lengthAdjust="spacingAndGlyphs" >(A’)</text>
<text x="1057.92" y="680" font-size="26" font-weight="normal" fill="#000" textLength="15.67" lengthAdjust="spacingAndGlyphs" >2</text>
<text x="1072.6" y="672.7" font-size="37.3" font-weight="normal" fill="#000" textLength="120.9" lengthAdjust="spacingAndGlyphs" >AgBiBr</text>
<text x="1192.4" y="680" font-size="26" font-weight="normal" fill="#000" textLength="14.47" lengthAdjust="spacingAndGlyphs" >8</text>
<path d="M262.1,798.9 L278.7,755.2 L284.2,755.2 L300.6,798.9 L295.2,798.9 L281.4,761.5 L267.5,798.9 Z" fill="#000"/>
<rect x="270" y="781.5" width="23" height="3.8" fill="#000"/>
<path d="M310.5,753.5 L315,753.5 L308.5,771.7 L305.5,771.7 Z" fill="#000"/>
<rect x="324" y="767.9" width="30.3" height="4.2" fill="#000"/><rect x="324" y="783.8" width="30.3" height="4.1" fill="#000"/>
<path d="M362.2,749.3 A20.0,6.0 146.8 0 1 395.6,727.5 L430.7,781.2 A20.0,6.0 146.8 0 1 397.3,803.0 Z" fill="#7f8fa0" opacity="0.35" transform="translate(-8,8)" filter="url(#blur6)"/>
<path d="M362.2,749.3 A20.0,6.0 146.8 0 1 395.6,727.5 L430.7,781.2 A20.0,6.0 146.8 0 1 397.3,803.0 Z" fill="none" stroke="#7FA8F0" stroke-width="9" opacity="0.85" filter="url(#blur3)"/>
<path d="M362.2,749.3 A20.0,6.0 146.8 0 1 395.6,727.5 L430.7,781.2 A20.0,6.0 146.8 0 1 397.3,803.0 Z" fill="#FF4B4B"/>
<ellipse cx="414.0" cy="792.1" rx="20.0" ry="6.0" transform="rotate(146.8 414.0 792.1)" fill="url(#cap)"/>
<text x="532.85" y="857" font-size="40" font-weight="normal" fill="#000" textLength="78.0" lengthAdjust="spacingAndGlyphs" >(BA)</text>
<text x="610.95" y="846.5" font-size="24" font-weight="normal" fill="#000" textLength="13.31" lengthAdjust="spacingAndGlyphs" >+</text>
<text x="720.96" y="858" font-size="40" font-weight="normal" fill="#000" textLength="113.3" lengthAdjust="spacingAndGlyphs" >(BrPA)</text>
<text x="833.69" y="847.4" font-size="24" font-weight="normal" fill="#000" textLength="14.13" lengthAdjust="spacingAndGlyphs" >+</text>
<text x="932.17" y="857" font-size="40" font-weight="normal" fill="#000" textLength="115.66" lengthAdjust="spacingAndGlyphs" >(BrEA)</text>
<text x="1047.24" y="846.8" font-size="24" font-weight="normal" fill="#000" textLength="14.83" lengthAdjust="spacingAndGlyphs" >+</text>
<path d="M492.7,778.4 L533.6,788.4 L569.8,762.1 L604.3,789.3 L642.4,762.1" stroke="#8a8a8a" stroke-width="22" fill="none" opacity="0.5" stroke-linecap="round" stroke-linejoin="round" filter="url(#blurM)"/>
<line x1="486.7" y1="769.4" x2="477.7" y2="740.4" stroke="#9CCBEA" stroke-width="3.4"/>
<line x1="486.7" y1="769.4" x2="464" y2="789.4" stroke="#9CCBEA" stroke-width="3.4"/>
<line x1="486.7" y1="769.4" x2="489.5" y2="771.2" stroke="#9CCBEA" stroke-width="3.4"/>
<line x1="527.6" y1="779.4" x2="533.9" y2="809.3" stroke="#9CCBEA" stroke-width="3.4"/>
<line x1="563.8" y1="753.1" x2="553.9" y2="733.1" stroke="#9CCBEA" stroke-width="3.4"/>
<line x1="563.8" y1="753.1" x2="574.7" y2="733.1" stroke="#9CCBEA" stroke-width="3.4"/>
<line x1="598.3" y1="780.3" x2="589.2" y2="795.7" stroke="#9CCBEA" stroke-width="3.4"/>
<line x1="598.3" y1="780.3" x2="604.7" y2="802.1" stroke="#9CCBEA" stroke-width="3.4"/>
<line x1="636.4" y1="753.1" x2="628.2" y2="729.5" stroke="#9CCBEA" stroke-width="3.4"/>
<line x1="636.4" y1="753.1" x2="649.1" y2="746.7" stroke="#9CCBEA" stroke-width="3.4"/>
<line x1="636.4" y1="753.1" x2="654.5" y2="769.4" stroke="#9CCBEA" stroke-width="3.4"/>
<line x1="486.7" y1="769.4" x2="527.6" y2="779.4" stroke="#8A8A8A" stroke-width="6.5"/>
<line x1="486.7" y1="768.4" x2="527.6" y2="778.4" stroke="#C4C4C4" stroke-width="2.3" opacity="0.8"/>
<line x1="527.6" y1="779.4" x2="563.8" y2="753.1" stroke="#8A8A8A" stroke-width="6.5"/>
<line x1="527.6" y1="778.4" x2="563.8" y2="752.1" stroke="#C4C4C4" stroke-width="2.3" opacity="0.8"/>
<line x1="563.8" y1="753.1" x2="598.3" y2="780.3" stroke="#8A8A8A" stroke-width="6.5"/>
<line x1="563.8" y1="752.1" x2="598.3" y2="779.3" stroke="#C4C4C4" stroke-width="2.3" opacity="0.8"/>
<line x1="598.3" y1="780.3" x2="617.3499999999999" y2="766.7" stroke="#8A8A8A" stroke-width="6.5"/>
<line x1="598.3" y1="779.3" x2="617.3499999999999" y2="765.7" stroke="#C4C4C4" stroke-width="2.3" opacity="0.8"/>
<line x1="617.3499999999999" y1="766.7" x2="636.4" y2="753.1" stroke="#1E46D8" stroke-width="6.5"/>
<line x1="617.3499999999999" y1="765.7" x2="636.4" y2="752.1" stroke="#FFFFFF" stroke-width="1.9" opacity="0.35"/>
<circle cx="486.7" cy="769.4" r="7.6" fill="url(#gC)"/>
<circle cx="527.6" cy="779.4" r="7.6" fill="url(#gC)"/>
<circle cx="563.8" cy="753.1" r="7.6" fill="url(#gC)"/>
<circle cx="598.3" cy="780.3" r="7.6" fill="url(#gC)"/>
<circle cx="636.4" cy="753.1" r="7.8" fill="url(#gN)"/>
<circle cx="477.7" cy="740.4" r="3.8" fill="url(#gH)"/>
<circle cx="464" cy="789.4" r="3.8" fill="url(#gH)"/>
<circle cx="489.5" cy="771.2" r="3.8" fill="url(#gH)"/>
<circle cx="533.9" cy="809.3" r="3.8" fill="url(#gH)"/>
<circle cx="553.9" cy="733.1" r="3.8" fill="url(#gH)"/>
<circle cx="574.7" cy="733.1" r="3.8" fill="url(#gH)"/>
<circle cx="589.2" cy="795.7" r="3.8" fill="url(#gH)"/>
<circle cx="604.7" cy="802.1" r="3.8" fill="url(#gH)"/>
<circle cx="628.2" cy="729.5" r="3.8" fill="url(#gH)"/>
<circle cx="649.1" cy="746.7" r="3.8" fill="url(#gH)"/>
<circle cx="654.5" cy="769.4" r="3.8" fill="url(#gH)"/>
<path d="M721.2,741.7 L721.9,788.6 L766,803.6 L796.7,775 L838.9,792" stroke="#8a8a8a" stroke-width="22" fill="none" opacity="0.5" stroke-linecap="round" stroke-linejoin="round" filter="url(#blurM)"/>
<line x1="715.9" y1="779.6" x2="703.6" y2="769.4" stroke="#9CCBEA" stroke-width="3.4"/>
<line x1="715.9" y1="779.6" x2="696.1" y2="799.4" stroke="#9CCBEA" stroke-width="3.4"/>
<line x1="760" y1="794.6" x2="772.3" y2="803.4" stroke="#9CCBEA" stroke-width="3.4"/>
<line x1="760" y1="794.6" x2="760" y2="813" stroke="#9CCBEA" stroke-width="3.4"/>
<line x1="790.7" y1="766" x2="793.4" y2="742.2" stroke="#9CCBEA" stroke-width="3.4"/>
<line x1="790.7" y1="766" x2="778.4" y2="755.1" stroke="#9CCBEA" stroke-width="3.4"/>
<line x1="832.9" y1="783" x2="851.2" y2="764" stroke="#9CCBEA" stroke-width="3.4"/>
<line x1="832.9" y1="783" x2="843" y2="795.3" stroke="#9CCBEA" stroke-width="3.4"/>
<line x1="832.9" y1="783" x2="828.8" y2="802.1" stroke="#9CCBEA" stroke-width="3.4"/>
<line x1="715.9" y1="779.6" x2="715.55" y2="756.1500000000001" stroke="#8A8A8A" stroke-width="6.5"/>
<line x1="715.9" y1="778.6" x2="715.55" y2="755.1500000000001" stroke="#C4C4C4" stroke-width="2.3" opacity="0.8"/>
<line x1="715.55" y1="756.1500000000001" x2="715.2" y2="732.7" stroke="#E49A9A" stroke-width="6.5"/>
<line x1="715.55" y1="755.1500000000001" x2="715.2" y2="731.7" stroke="#FFFFFF" stroke-width="1.9" opacity="0.35"/>
<line x1="715.9" y1="779.6" x2="760" y2="794.6" stroke="#8A8A8A" stroke-width="6.5"/>
<line x1="715.9" y1="778.6" x2="760" y2="793.6" stroke="#C4C4C4" stroke-width="2.3" opacity="0.8"/>
<line x1="760" y1="794.6" x2="790.7" y2="766" stroke="#8A8A8A" stroke-width="6.5"/>
<line x1="760" y1="793.6" x2="790.7" y2="765" stroke="#C4C4C4" stroke-width="2.3" opacity="0.8"/>
<line x1="790.7" y1="766" x2="811.8" y2="774.5" stroke="#8A8A8A" stroke-width="6.5"/>
<line x1="790.7" y1="765" x2="811.8" y2="773.5" stroke="#C4C4C4" stroke-width="2.3" opacity="0.8"/>
<line x1="811.8" y1="774.5" x2="832.9" y2="783" stroke="#1E46D8" stroke-width="6.5"/>
<line x1="811.8" y1="773.5" x2="832.9" y2="782" stroke="#FFFFFF" stroke-width="1.9" opacity="0.35"/>
<circle cx="715.2" cy="732.7" r="8.8" fill="url(#gBr)"/>
<circle cx="715.9" cy="779.6" r="7.6" fill="url(#gC)"/>
<circle cx="760" cy="794.6" r="7.6" fill="url(#gC)"/>
<circle cx="790.7" cy="766" r="7.6" fill="url(#gC)"/>
<circle cx="832.9" cy="783" r="7.8" fill="url(#gN)"/>
<circle cx="703.6" cy="769.4" r="3.8" fill="url(#gH)"/>
<circle cx="696.1" cy="799.4" r="3.8" fill="url(#gH)"/>
<circle cx="772.3" cy="803.4" r="3.8" fill="url(#gH)"/>
<circle cx="760" cy="813" r="3.8" fill="url(#gH)"/>
<circle cx="793.4" cy="742.2" r="3.8" fill="url(#gH)"/>
<circle cx="778.4" cy="755.1" r="3.8" fill="url(#gH)"/>
<circle cx="851.2" cy="764" r="3.8" fill="url(#gH)"/>
<circle cx="843" cy="795.3" r="3.8" fill="url(#gH)"/>
<circle cx="828.8" cy="802.1" r="3.8" fill="url(#gH)"/>
<path d="M916.2,757.3 L958.6,783.7 L1001.6,764.8 L1044.7,782.2" stroke="#8a8a8a" stroke-width="22" fill="none" opacity="0.5" stroke-linecap="round" stroke-linejoin="round" filter="url(#blurM)"/>
<line x1="995.6" y1="755.8" x2="991.9" y2="731.6" stroke="#9CCBEA" stroke-width="3.4"/>
<line x1="995.6" y1="755.8" x2="998.7" y2="743" stroke="#9CCBEA" stroke-width="3.4"/>
<line x1="952.6" y1="774.7" x2="949.5" y2="792.1" stroke="#9CCBEA" stroke-width="3.4"/>
<line x1="952.6" y1="774.7" x2="953.3" y2="795.9" stroke="#9CCBEA" stroke-width="3.4"/>
<line x1="1038.7" y1="773.2" x2="1057.6" y2="759.6" stroke="#9CCBEA" stroke-width="3.4"/>
<line x1="1038.7" y1="773.2" x2="1046.3" y2="767.2" stroke="#9CCBEA" stroke-width="3.4"/>
<line x1="1038.7" y1="773.2" x2="1038" y2="801.9" stroke="#9CCBEA" stroke-width="3.4"/>
<line x1="952.6" y1="774.7" x2="931.4000000000001" y2="761.5" stroke="#8A8A8A" stroke-width="6.5"/>
<line x1="952.6" y1="773.7" x2="931.4000000000001" y2="760.5" stroke="#C4C4C4" stroke-width="2.3" opacity="0.8"/>
<line x1="931.4000000000001" y1="761.5" x2="910.2" y2="748.3" stroke="#E49A9A" stroke-width="6.5"/>
<line x1="931.4000000000001" y1="760.5" x2="910.2" y2="747.3" stroke="#FFFFFF" stroke-width="1.9" opacity="0.35"/>
<line x1="952.6" y1="774.7" x2="995.6" y2="755.8" stroke="#8A8A8A" stroke-width="6.5"/>
<line x1="952.6" y1="773.7" x2="995.6" y2="754.8" stroke="#C4C4C4" stroke-width="2.3" opacity="0.8"/>
<line x1="995.6" y1="755.8" x2="1017.1500000000001" y2="764.5" stroke="#8A8A8A" stroke-width="6.5"/>
<line x1="995.6" y1="754.8" x2="1017.1500000000001" y2="763.5" stroke="#C4C4C4" stroke-width="2.3" opacity="0.8"/>
<line x1="1017.1500000000001" y1="764.5" x2="1038.7" y2="773.2" stroke="#1E46D8" stroke-width="6.5"/>
<line x1="1017.1500000000001" y1="763.5" x2="1038.7" y2="772.2" stroke="#FFFFFF" stroke-width="1.9" opacity="0.35"/>
<circle cx="910.2" cy="748.3" r="8.8" fill="url(#gBr)"/>
<circle cx="952.6" cy="774.7" r="7.6" fill="url(#gC)"/>
<circle cx="995.6" cy="755.8" r="7.6" fill="url(#gC)"/>
<circle cx="1038.7" cy="773.2" r="7.8" fill="url(#gN)"/>
<circle cx="991.9" cy="731.6" r="3.8" fill="url(#gH)"/>
<circle cx="998.7" cy="743" r="3.8" fill="url(#gH)"/>
<circle cx="949.5" cy="792.1" r="3.8" fill="url(#gH)"/>
<circle cx="953.3" cy="795.9" r="3.8" fill="url(#gH)"/>
<circle cx="1057.6" cy="759.6" r="3.8" fill="url(#gH)"/>
<circle cx="1046.3" cy="767.2" r="3.8" fill="url(#gH)"/>
<circle cx="1038" cy="801.9" r="3.8" fill="url(#gH)"/>
<rect x="677.2" y="750.4" width="7.2" height="7.4" fill="#000"/>
<path d="M677.2,772.5 L684.4000000000001,772.5 L684.4000000000001,781 Q683.2,786 677.2,788 L677.2,785 Q679.7,783 680.0,779.5 L677.2,779.5 Z" fill="#000"/>
<rect x="886" y="750.4" width="7.2" height="7.4" fill="#000"/>
<path d="M886,772.5 L893.2,772.5 L893.2,781 Q892,786 886,788 L886,785 Q888.5,783 888.8,779.5 L886,779.5 Z" fill="#000"/>
</svg>
</body></html>
